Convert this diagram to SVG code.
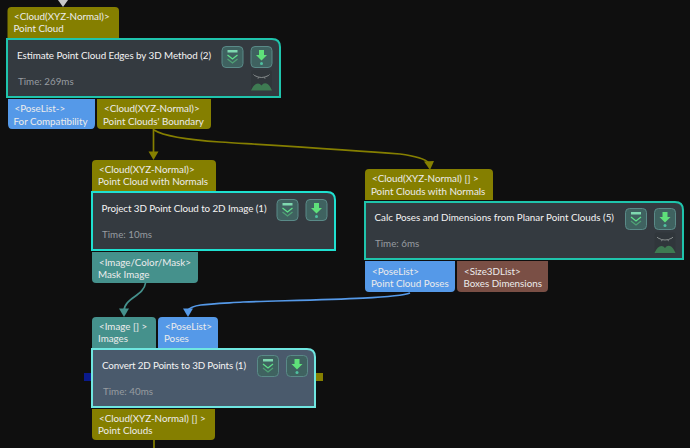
<svg xmlns="http://www.w3.org/2000/svg" width="690" height="448" viewBox="0 0 690 448">
<style>
text{font-family:"Lato","Noto Sans","Liberation Sans",sans-serif;font-size:9.8px;fill:#ececec}
.t{fill:#f4f4f4}
.m{fill:#979ca0}
.n{fill:#343a40;stroke:#1fc4ac;stroke-width:2}
.s{fill:#4a5a6c;stroke:#6fe6e0;stroke-width:2}
.ol{fill:#857f00}.bl{fill:#5599e8}.te{fill:#45918c}.br{fill:#7a4f45}
.b{fill:#3f6260;stroke:#5a8a88;stroke-width:1}
.c{fill:none;stroke-width:1.7}
.g{fill:none;stroke:#5fe08a;stroke-width:1.3}
.p{fill:#5fe07a}
</style>
<defs>
<g id="btns">
<rect class="b" x="0.500" y="0.500" width="21" height="21" rx="4"/>
<rect x="6" y="4" width="10" height="2.500" fill="#7fd8b0"/>
<path class="g" d="M6 9l5 4 5-4"/><path class="g" d="M6 13l5 4 5-4" opacity=".5"/>
<rect class="b" x="29.500" y="0.500" width="21" height="21" rx="4"/>
<path class="p" d="M37.500 4h5v5h3l-5.500 5.500-5.500-5.500h3z"/><circle cx="40" cy="17.500" r="1.500" fill="#4fc0a0"/>
</g>
<g id="eye">
<rect x="0.500" y="0.500" width="21" height="21" rx="3" fill="#30363b"/>
<path d="M4 6q7 4 14 0M4 6l-1-1M18 6l1-1M8 8l-.5 1.200M14 8l.5 1.200" fill="none" stroke="#9aa0a0" stroke-width=".8"/>
<path d="M0.500 21q3-7 7-7 2 0 3.500 2 2-3 5-2 3 1 5.500 7z" fill="#3e7a52"/>
</g>
</defs>
<rect width="690" height="448" fill="#0f0f0f"/>
<g id="connectors">
<path d="M58 0l5 7 5-7z" fill="#c8c8c8"/>
<path class="c" stroke="#857f00" d="M153.500 129V152"/>
<path d="M148.500 151.500h10l-5 8.500z" fill="#857f00"/>
<path class="c" stroke="#857f00" d="M154 130C165 137 190 140 220 142C300 147 350 150 400 154C415 156 425 159 429 163"/>
<path d="M424 161.500l10-.5-4 9z" fill="#857f00"/>
<path class="c" stroke="#45918c" d="M145.500 283C144 296 124 298 124 311"/>
<path d="M119 308.500h10l-5 8.500z" fill="#45918c"/>
<path class="c" stroke="#5599e8" d="M410 293C395 299 300 300 243 302C210 304 192 304 188 310"/>
<path d="M183 308.500h10l-5 8.500z" fill="#5599e8"/>
<path class="c" stroke="#857f00" d="M154 440V448"/>
</g>
<g id="node1">
<path class="ol" d="M7.500 38V11q0-4 4-4h103.500q4 0 4 4v27z"/>
<text x="14" y="20">&lt;Cloud(XYZ-Normal)&gt;</text><text x="13.500" y="32">Point Cloud</text>
<path class="n" d="M7 39H272q8 0 8 8V97H7z"/>
<text class="t" x="17" y="59" textLength="194">Estimate Point Cloud Edges by 3D Method (2)</text>
<text class="m" x="18" y="85">Time: 269ms</text>
<use href="#btns" x="221.500" y="46"/>
<use href="#eye" x="250.500" y="69.500"/>
<path class="bl" d="M8 99H95V124q0 5-4 5H12q-4 0-4-5z"/>
<text x="14.500" y="112">&lt;PoseList-&gt;</text><text x="13.500" y="125">For Compatibility</text>
<path class="ol" d="M97 99H211V125q0 4-4 4H101q-4 0-4-4z"/>
<text x="104" y="112">&lt;Cloud(XYZ-Normal)&gt;</text><text x="103" y="125">Point Clouds' Boundary</text>
</g>
<g id="node2">
<path class="ol" d="M92 191V164q0-4 4-4H212q4 0 4 4v27z"/>
<text x="99" y="173">&lt;Cloud(XYZ-Normal)&gt;</text><text x="98" y="185">Point Cloud with Normals</text>
<path class="n" style="stroke:#1fe0d0" d="M92 192H327q8 0 8 8V250H92z"/>
<text class="t" x="101.500" y="212" textLength="165">Project 3D Point Cloud to 2D Image (1)</text>
<text class="m" x="102" y="238">Time: 10ms</text>
<use href="#btns" x="276.500" y="199"/>
<path class="te" d="M92 252H198V279q0 4-4 4H96q-4 0-4-4z"/>
<text x="99" y="266">&lt;Image/Color/Mask&gt;</text><text x="98" y="278">Mask Image</text>
</g>
<g id="node3">
<path class="ol" d="M365 200V173q0-4 4-4H489q4 0 4 4v27z"/>
<text x="372" y="182">&lt;Cloud(XYZ-Normal) [] &gt;</text><text x="371" y="195">Point Clouds with Normals</text>
<path class="n" d="M365 202H675q8 0 8 8V259H365z"/>
<text class="t" x="374.500" y="221">Calc Poses and Dimensions from Planar Point Clouds (5)</text>
<text class="m" x="375" y="247">Time: 6ms</text>
<use href="#btns" x="625" y="208"/>
<use href="#eye" x="654" y="232"/>
<path class="bl" d="M365 261H455V288q0 4-4 4H369q-4 0-4-4z"/>
<text x="372" y="275">&lt;PoseList&gt;</text><text x="371" y="287">Point Cloud Poses</text>
<path class="br" d="M457 261H548V288q0 4-4 4H461q-4 0-4-4z"/>
<text x="464" y="275">&lt;Size3DList&gt;</text><text x="463.500" y="287">Boxes Dimensions</text>
</g>
<g id="node4">
<path class="te" d="M92 348V321q0-4 4-4H152q4 0 4 4v27z"/>
<text x="99" y="330">&lt;Image [] &gt;</text><text x="98" y="342">Images</text>
<path class="bl" d="M158 348V321q0-4 4-4H214q4 0 4 4v27z"/>
<text x="165" y="330">&lt;PoseList&gt;</text><text x="164" y="342">Poses</text>
<rect x="84" y="373" width="8" height="8" fill="#0a1a8c"/>
<rect x="315" y="373" width="8" height="8" fill="#857f00"/>
<path class="s" d="M92 349H307q8 0 8 8V407H92z"/>
<text class="t" x="102" y="369" textLength="144">Convert 2D Points to 3D Points (1)</text>
<text class="m" x="103" y="395">Time: 40ms</text>
<use href="#btns" x="257" y="355"/>
<path class="ol" d="M92 409H215V436q0 4-4 4H96q-4 0-4-4z"/>
<text x="99" y="422">&lt;Cloud(XYZ-Normal) [] &gt;</text><text x="98" y="434">Point Clouds</text>
</g>
</svg>
